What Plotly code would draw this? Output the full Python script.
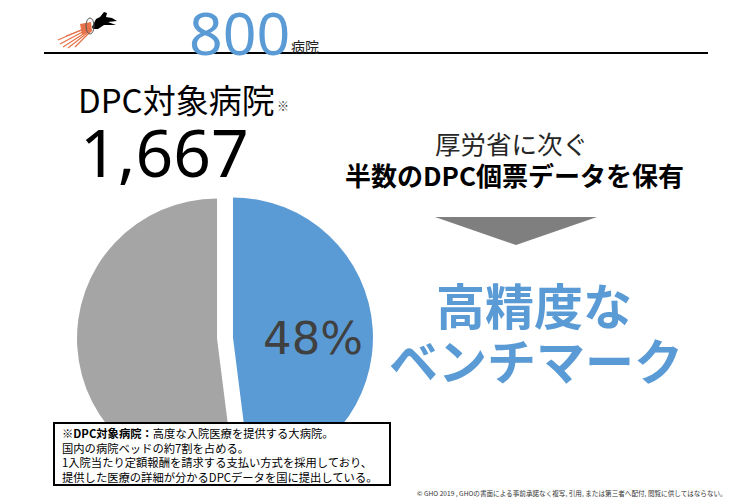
import plotly.graph_objects as go

# ---- data ----
slice_labels = ["GHO保有", "その他"]
slice_values = [48, 52]
slice_colors = ["#5B9BD5", "#A5A5A5"]
slice_text = [f"{slice_values[0]}%", ""]

hospitals_800 = "800"
dpc_hospitals = "1,667"

# page body has an 8px margin: map window pixels to figure paper coords
OFF = 8
W, H = 750 - OFF, 500 - OFF
def X(px): return (px - OFF) / W
def Y(py): return 1 - (py - OFF) / H

JP = "Noto Sans CJK JP"
NUM = "Noto Sans"
BLUE = "#5B9BD5"

fig = go.Figure()
fig.add_trace(go.Pie(
    labels=slice_labels, values=slice_values,
    marker=dict(colors=slice_colors, line=dict(width=0)),
    sort=False, direction="clockwise", rotation=0,
    pull=[0.057, 0.057], textinfo="none",
    hoverinfo="skip", showlegend=False,
    domain=dict(x=[X(77), X(373)], y=[Y(486), Y(190)]),
))

shapes = []
shapes.append(dict(type="line", xref="paper", yref="paper", x0=X(44), x1=X(708), y0=Y(53), y1=Y(53),
                   line=dict(color="black", width=2)))
shapes.append(dict(type="path", xref="paper", yref="paper",
                   path=f"M {X(435)},{Y(217)} L {X(597)},{Y(217)} L {X(516)},{Y(245)} Z",
                   fillcolor="#7F7F7F", line=dict(width=0)))
shapes.append(dict(type="rect", xref="paper", yref="paper", x0=X(50), x1=X(395), y0=0, y1=Y(423),
                   fillcolor="white", line=dict(width=0), layer="above"))
shapes.append(dict(type="rect", xref="paper", yref="paper", x0=X(54), x1=X(390), y0=Y(485), y1=Y(423),
                   fillcolor="white", line=dict(color="black", width=2), layer="above"))
# logo
for (x0, y0, x1, y1) in [(90, 26, 58, 40), (90, 28, 60, 44), (91, 29, 63, 47), (91, 30, 68, 48),
                         (90, 27, 66, 36), (92, 30, 75, 47)]:
    shapes.append(dict(type="line", xref="paper", yref="paper", x0=X(x0), y0=Y(y0), x1=X(x1), y1=Y(y1),
                       line=dict(color="#E8734A", width=1.2)))
shapes.append(dict(type="path", xref="paper", yref="paper",
                   path=f"M {X(80)},{Y(24)} L {X(91)},{Y(22)} L {X(92)},{Y(31)} L {X(82)},{Y(35)} Z",
                   fillcolor="#E8734A", line=dict(width=0)))
shapes.append(dict(type="path", xref="paper", yref="paper",
                   path=(f"M {X(92)},{Y(27)} L {X(96)},{Y(19)} L {X(100)},{Y(17)} L {X(104)},{Y(12)} "
                         f"L {X(107)},{Y(13)} L {X(106)},{Y(17)} L {X(112)},{Y(18)} L {X(117)},{Y(21)} "
                         f"L {X(108)},{Y(22)} L {X(116)},{Y(25)} L {X(104)},{Y(25)} L {X(98)},{Y(29)} "
                         f"L {X(93)},{Y(29)} Z"),
                   fillcolor="black", line=dict(width=0)))
shapes.append(dict(type="circle", xref="paper", yref="paper", x0=X(86), x1=X(94), y0=Y(34), y1=Y(18),
                   line=dict(color="#555555", width=1)))

ann = []
def A(text, x, y, size, color="black", family=JP, xanchor="center", yanchor="middle", align="center"):
    ann.append(dict(text=text, x=X(x), y=Y(y), xref="paper", yref="paper", showarrow=False,
                    xanchor=xanchor, yanchor=yanchor, align=align,
                    font=dict(family=family, size=size, color=color)))

A(slice_text[0], 313, 338, 45, "#404040", "DejaVu Sans")
A(hospitals_800, 239, 32, 59, BLUE, NUM)
A("病院", 289, 46, 14, "#222222", JP, xanchor="left")
A("DPC対象病院", 76, 99, 33, "black", JP, xanchor="left")
A("※", 275, 105, 12, "#333333", JP, xanchor="left")
A(dpc_hospitals, 78, 151, 66, "black", NUM, xanchor="left")
A("厚労省に次ぐ", 512, 142, 25.5, "#262626")
A("<b>半数のDPC個票データを保有</b>", 514, 174, 26, "black")
A("<b>高精度な</b>", 534, 303, 49, BLUE)
A("<b>ベンチマーク</b>", 536, 358, 49, BLUE)
A("<b>※DPC対象病院：</b>高度な入院医療を提供する大病院。<br>"
  "国内の病院ベッドの約7割を占める。<br>"
  "1入院当たり定額報酬を請求する支払い方式を採用しており、<br>"
  "提供した医療の詳細が分かるDPCデータを国に提出している。",
  60, 455, 11.3, "black", JP, xanchor="left", align="left")
A("© GHO 2019 , GHOの書面による事前承諾なく複写, 引用, または第三者へ配付, 閲覧に供してはならない。",
  572, 493, 6.6, "#333333", JP)

fig.update_layout(width=W, height=H, margin=dict(l=0, r=0, t=0, b=0),
                  paper_bgcolor="white", plot_bgcolor="white",
                  shapes=shapes, annotations=ann, showlegend=False)
fig.write_html("out.html")
